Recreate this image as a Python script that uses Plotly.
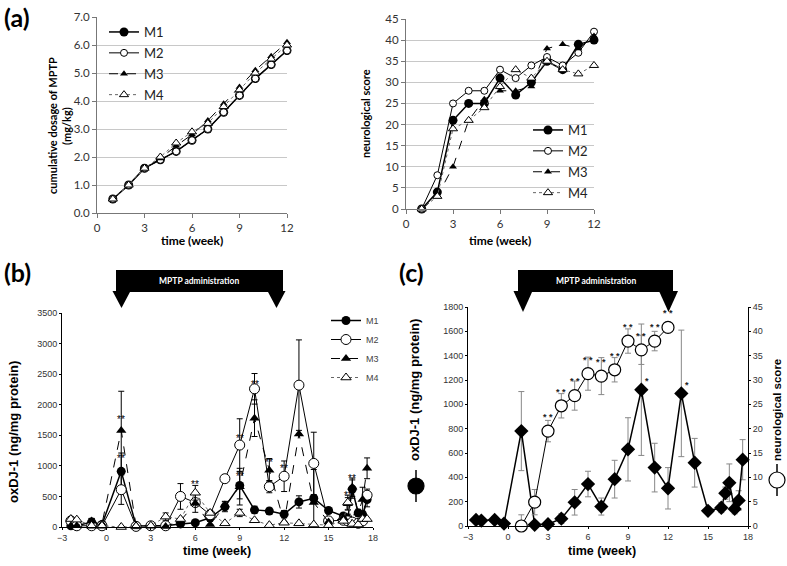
import plotly.graph_objects as go

W, H = 787, 566

# ---------------- data ----------------
# (a) cumulative MPTP dose, weeks 1-12
wk_a = [1, 2, 3, 4, 5, 6, 7, 8, 9, 10, 11, 12]
dose_m1 = [0.5, 1.0, 1.6, 1.9, 2.2, 2.6, 3.0, 3.6, 4.2, 4.8, 5.3, 5.8]
dose_m2 = [0.5, 1.0, 1.6, 1.9, 2.2, 2.6, 3.0, 3.6, 4.2, 4.8, 5.3, 5.8]
dose_m3 = [0.5, 1.0, 1.6, 1.95, 2.4, 2.8, 3.3, 3.9, 4.5, 5.1, 5.6, 6.1]
dose_m4 = [0.5, 1.0, 1.6, 2.0, 2.5, 2.9, 3.2, 3.8, 4.4, 5.0, 5.5, 6.0]

# (a) neurological score, weeks 1-12
neuro_m1 = [0, 4, 21, 25, 25, 31, 27, 30, 35, 33, 39, 40]
neuro_m2 = [0, 8, 25, 28, 28, 33, 31, 34, 36, 34, 37, 42]
neuro_m3 = [0, 3, 10, 21, 26, 28, 28, 29, 38, 39, 38, 41]
neuro_m4 = [0, 3, 19, 21, 24, 29, 33, 31, 35, 33, 32, 34]

# (b) oxDJ-1 per monkey
wk_b = [-2.4, -2.0, -1.0, -0.3, 1, 2, 3, 4, 5, 6, 7, 8, 9, 10, 11, 12, 13, 14, 15,
        16, 16.3, 16.6, 17, 17.3, 17.6]
ox_m1 = [20, 20, 80, 40, 910, 20, 20, 20, 50, 70, 150, 330, 680, 280, 260, 210, 410, 470, 270,
         180, 150, 620, 230, 200, 450]
ox_m2 = [100, 20, 20, 20, 610, 10, 20, 20, 500, 400, 200, 790, 1340, 2260, 660, 830, 2320, 1040, 100,
         110, 100, 80, 60, 100, 520]
ox_m3 = [20, 20, 100, 50, 1580, 20, 20, 10, 100, 390, 40, 360, 660, 1780, 930, 80, 1520, 400, 80,
         150, 380, 650, 230, 450, 960]
ox_m4 = [130, 120, 20, 20, 0, 10, 20, 170, 130, 560, 230, 60, 230, 110, 30, 70, 60, 40, 30,
         100, 400, 50, 40, 130, 130]
err_m1 = [10, 10, 60, 20, 300, 10, 10, 10, 20, 30, 60, 80, 220, 60, 50, 60, 100, 470, 40,
          40, 40, 150, 60, 60, 120]
err_m2 = [0, 0, 0, 0, 240, 0, 0, 0, 210, 0, 50, 60, 430, 250, 100, 250, 740, 510, 0,
          0, 0, 0, 0, 0, 100]
err_m3 = [0, 0, 40, 0, 640, 0, 0, 0, 0, 150, 0, 60, 300, 300, 190, 0, 0, 0, 0,
          0, 100, 150, 0, 200, 170]
err_m4 = [0, 0, 0, 0, 0, 0, 0, 60, 0, 120, 0, 0, 60, 0, 0, 0, 0, 0, 0,
          0, 120, 0, 0, 0, 0]

# (c) mean oxDJ-1 and mean neurological score
ox_mean = [50, 45, 50, 20, 780, 10, 15, 60, 195, 345, 160, 385, 630, 1120, 480, 310, 1090, 520, 125,
           150, 270, 355, 140, 210, 545]
ox_err = [20, 20, 25, 15, 325, 10, 15, 40, 105, 105, 70, 155, 260, 540, 200, 170, 520, 200, 30,
          40, 50, 155, 40, 80, 165]
neuro_mean = [0, 4.9, 19.5, 24.7, 26.8, 31.3, 30.8, 32.1, 38.0, 36.2, 38.0, 40.8]
neuro_err = [2.3, 2.6, 2.2, 2.5, 3.0, 3.4, 3.8, 2.5, 2.5, 3.0, 2.0, 1.0]

# ---------------- helpers ----------------
def fx(p):
    return p / W


def fy(p):
    return 1 - p / H


FA = "Lato"
FB = "Liberation Sans"

sty = {
    "M1": dict(line=dict(color="black", width=1.5),
               marker=dict(symbol="circle", size=9, color="black")),
    "M2": dict(line=dict(color="black", width=1),
               marker=dict(symbol="circle", size=7, color="white", line=dict(color="black", width=1))),
    "M3": dict(line=dict(color="black", width=1, dash="dash"),
               marker=dict(symbol="triangle-up", size=7, color="black")),
    "M4": dict(line=dict(color="#666", width=1, dash="dot"),
               marker=dict(symbol="triangle-up", size=8, color="white", line=dict(color="black", width=1))),
}

fig = go.Figure()

# (a) left
for name, ys in [("M1", dose_m1), ("M2", dose_m2), ("M3", dose_m3), ("M4", dose_m4)]:
    fig.add_trace(go.Scatter(x=wk_a, y=ys, name=name, mode="lines+markers", cliponaxis=False,
                             xaxis="x", yaxis="y", legend="legend", legendgroup="a" + name,
                             **sty[name]))

# (a) right
for name, ys in [("M1", neuro_m1), ("M2", neuro_m2), ("M3", neuro_m3), ("M4", neuro_m4)]:
    fig.add_trace(go.Scatter(x=wk_a, y=ys, name=name, mode="lines+markers", cliponaxis=False,
                             xaxis="x2", yaxis="y2", legend="legend2", legendgroup="b" + name,
                             **sty[name]))

# (b)
big = {"M1": 9, "M2": 10, "M3": 9, "M4": 9}
for name, ys, es in [("M1", ox_m1, err_m1), ("M2", ox_m2, err_m2),
                     ("M3", ox_m3, err_m3), ("M4", ox_m4, err_m4)]:
    s = dict(sty[name])
    m = dict(s["marker"])
    m["size"] = big[name]
    s["marker"] = m
    fig.add_trace(go.Scatter(x=wk_b, y=ys, name=name, mode="lines+markers", cliponaxis=False,
                             error_y=dict(type="data", array=es, color="black", thickness=1, width=3),
                             xaxis="x3", yaxis="y3", legend="legend3", legendgroup="c" + name,
                             **s))

# (c)
fig.add_trace(go.Scatter(x=wk_b, y=ox_mean, mode="lines+markers", showlegend=False, cliponaxis=False,
                         line=dict(color="black", width=1.5),
                         marker=dict(symbol="diamond", size=11, color="black"),
                         error_y=dict(type="data", array=ox_err, color="#888", thickness=1, width=3),
                         xaxis="x4", yaxis="y4"))
fig.add_trace(go.Scatter(x=wk_a, y=neuro_mean, mode="lines+markers", showlegend=False, cliponaxis=False,
                         line=dict(color="black", width=1),
                         marker=dict(symbol="circle", size=12, color="white", line=dict(color="black", width=1.2)),
                         error_y=dict(type="data", array=neuro_err, color="#888", thickness=1, width=3),
                         xaxis="x4", yaxis="y5"))

# ---------------- axes ----------------
def ax_a(domain, anchor, rng, dt, **kw):
    return dict(domain=domain, anchor=anchor, range=rng, dtick=dt, tick0=0, automargin=False,
                showline=True, linecolor="#777", linewidth=1, ticks="outside", ticklen=4,
                tickcolor="#777", zeroline=False, showgrid=False,
                tickfont=dict(family=FA, size=11.5, color="#333"), **kw)


def ax_b(domain, anchor, rng, dt, **kw):
    return dict(domain=domain, anchor=anchor, range=rng, dtick=dt, tick0=0, automargin=False,
                showline=True, linecolor="black", linewidth=1, ticks="outside", ticklen=2,
                tickcolor="black", zeroline=False, showgrid=False,
                tickfont=dict(family=FB, size=9, color="#333"), **kw)


fig.update_layout(
    width=W, height=H, margin=dict(l=0, r=0, t=0, b=0, autoexpand=False),
    paper_bgcolor="white", plot_bgcolor="white",
    xaxis=ax_a([fx(97), fx(287)], "y", [0, 12], 3),
    yaxis=ax_a([fy(213), fy(17)], "x", [0, 7], 1, tickformat=".1f"),
    xaxis2=ax_a([fx(406), fx(594)], "y2", [0, 12], 3),
    yaxis2=ax_a([fy(209), fy(19)], "x2", [0, 45], 5),
    xaxis3=ax_b([fx(62), fx(373)], "y3", [-3, 18], 3),
    yaxis3=ax_b([fy(527), fy(313)], "x3", [0, 3500], 500),
    xaxis4=ax_b([fx(468), fx(748)], "y4", [-3, 18], 3),
    yaxis4=ax_b([fy(526), fy(307)], "x4", [0, 1800], 200),
    yaxis5=ax_b([fy(526), fy(307)], "x4", [0, 45], 5, overlaying="y4", side="right"),
)
fig.update_yaxes(showgrid=True, gridcolor="#c8c8c8", gridwidth=1, selector=dict(anchor="x"))
fig.update_yaxes(showgrid=True, gridcolor="#c8c8c8", gridwidth=1, selector=dict(anchor="x2"))

leg = dict(bgcolor="rgba(0,0,0,0)", xanchor="left", yanchor="top", itemwidth=30,
           traceorder="grouped", tracegroupgap=1)
fig.update_layout(
    legend=dict(leg, x=fx(104), y=fy(17), font=dict(family=FA, size=13, color="#222")),
    legend2=dict(leg, x=fx(528), y=fy(115), font=dict(family=FA, size=13, color="#222")),
    legend3=dict(leg, x=fx(326), y=fy(306), tracegroupgap=0, font=dict(family=FB, size=9, color="#444")),
)

# ---------------- text ----------------
ann = []


def txt(x, y, s, size, family, bold=False, angle=0, color="black", xa="center"):
    ann.append(dict(x=fx(x), y=fy(y), xref="paper", yref="paper", text=("<b>%s</b>" % s) if bold else s,
                    showarrow=False, textangle=angle, xanchor=xa, yanchor="middle",
                    font=dict(family=family, size=size, color=color)))


txt(2, 17, "(a)", 25, FA, bold=True, xa="left")
txt(2, 272, "(b)", 25, FA, bold=True, xa="left")
txt(397, 272, "(c)", 25, FA, bold=True, xa="left")

txt(52, 126, "cumulative dosage of MPTP", 11, FA, bold=True, angle=-90)
txt(66, 126, "(mg/kg)", 11, FA, bold=True, angle=-90)
txt(192, 240, "time (week)", 12, FA, bold=True)
txt(365, 114, "neurological score", 11, FA, bold=True, angle=-90)
txt(500, 240, "time (week)", 12, FA, bold=True)

txt(13, 432, "oxDJ-1 (ng/mg protein)", 13, FB, bold=True, angle=-90)
txt(217, 551, "time (week)", 12.5, FB, bold=True)
txt(414, 390, "oxDJ-1 (ng/mg protein)", 13, FB, bold=True, angle=-90)
txt(777, 410, "neurological score", 11.5, FB, bold=True, angle=-90)
txt(602, 551, "time (week)", 12.5, FB, bold=True)

txt(199, 281, "MPTP administration", 8.5, FA, bold=True, color="white")
txt(596, 281, "MPTP administration", 8.5, FA, bold=True, color="white")

# significance marks
star_b = [(1, 1760), (1, 1120), (6, 700), (9, 1450), (9, 820), (10, 2330), (11, 1060), (12, 960),
          (16.6, 790), (16.3, 520)]
for xv, yv in star_b:
    ann.append(dict(x=xv, y=yv, xref="x3", yref="y3", text="**", showarrow=False,
                    font=dict(family=FB, size=10, color="black")))
for xv, yv in zip(wk_a[2:], neuro_mean[2:]):
    ann.append(dict(x=xv, y=yv + 2.9, xref="x4", yref="y5", text="<b>* *</b>", showarrow=False,
                    font=dict(family=FB, size=9, color="#222")))
for xv, yv in [(10.45, 1190), (13.45, 1160)]:
    ann.append(dict(x=xv, y=yv, xref="x4", yref="y4", text="<b>*</b>", showarrow=False,
                    font=dict(family=FB, size=9, color="#222")))
fig.update_layout(annotations=ann)

# ---------------- MPTP arrows and axis-title symbols ----------------
shapes = []


def rect(x0, y0, x1, y1):
    shapes.append(dict(type="rect", xref="paper", yref="paper", x0=fx(x0), x1=fx(x1),
                       y0=fy(y1), y1=fy(y0), fillcolor="black", line=dict(width=0)))


def head(cx, top, tip, hw):
    shapes.append(dict(type="path", xref="paper", yref="paper",
                       path="M %f %f L %f %f L %f %f Z" % (fx(cx - hw), fy(top), fx(cx + hw), fy(top),
                                                          fx(cx), fy(tip)),
                       fillcolor="black", line=dict(width=0)))


rect(116, 270, 283, 292)
head(121.5, 291, 308, 9)
head(276.5, 291, 308, 9)
rect(518, 270, 673, 292)
head(523, 291, 312, 9.5)
head(668.5, 291, 312, 9.5)


def symbol(cx, cy, filled):
    shapes.append(dict(type="line", xref="paper", yref="paper", x0=fx(cx), x1=fx(cx),
                       y0=fy(cy - 16), y1=fy(cy + 16), line=dict(color="black", width=1.5)))
    shapes.append(dict(type="circle", xref="paper", yref="paper", x0=fx(cx - 8), x1=fx(cx + 8),
                       y0=fy(cy + 8), y1=fy(cy - 8), fillcolor="black" if filled else "white",
                       line=dict(color="black", width=1.2)))


symbol(416, 486, True)
symbol(777, 480, False)
fig.update_layout(shapes=shapes)

# the page body has a default 8px margin; drop it so the figure sits at the window origin
fig.write_html("out.html", config={"displayModeBar": False},
               post_script="document.body.style.margin='0';")
